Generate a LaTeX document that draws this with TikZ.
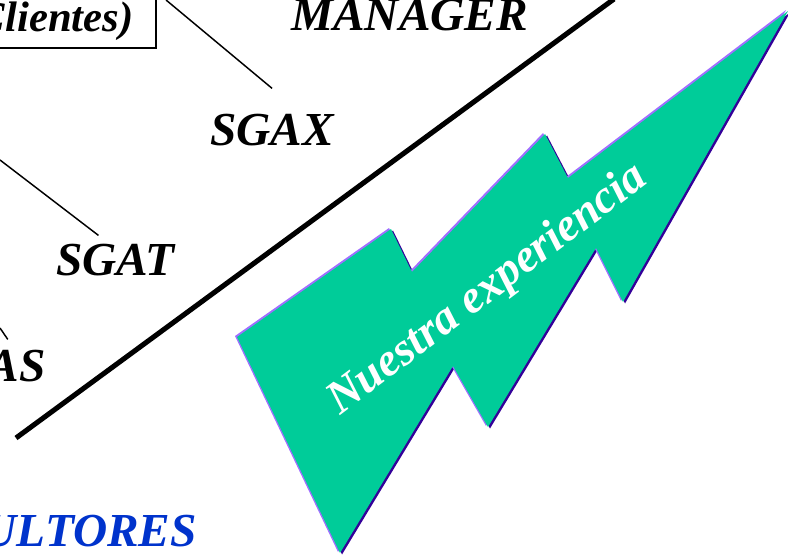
\documentclass[tikz,border=0pt]{standalone}
\usepackage{fontspec}
\setmainfont{Liberation Serif}
\usetikzlibrary{calc}

\definecolor{verde}{RGB}{0,204,153}
\definecolor{lila}{RGB}{160,110,255}
\definecolor{indigo}{RGB}{51,0,153}
\definecolor{azul}{RGB}{0,51,204}

\begin{document}
\begin{tikzpicture}[x=0.75pt, y=-0.75pt,
                titulo/.style = {font=\fontsize{35.5}{38}\selectfont\bfseries\itshape, inner sep=0pt},
                hilo/.style = {line width=1.1pt},
                raya/.style = {line width=3.8pt}]
                \useasboundingbox (0,0) rectangle (788,556);
                \clip (0,0) rectangle (788,556);

                % textos
                \node[titulo, font=\fontsize{32}{36}\selectfont\bfseries\itshape, draw, line width=1.5pt,
                      anchor=south east, inner xsep=17pt, text depth=12.5pt, text height=60pt]
                      at (157,49) (clientes) {(Clientes)};
                \node[titulo, anchor=base west] at (291,31) (manager) {MANAGER};
                \node[titulo, anchor=base west] at (210,146) (sgax) {SGAX};
                \node[titulo, anchor=base west] at (56,275) (sgat) {SGAT};
                \node[titulo, anchor=base east] at (46,381) (sgas) {AS};
                \node[titulo, anchor=base east, text=azul] at (197,546) (consultores) {ULTORES};

                % lineas finas
                \coordinate (c1) at (166,0);
                \coordinate (c2) at (0,160);
                \coordinate (c3) at (0,328);
                \draw[hilo] (c1) -- ($(sgax.north)+(0,-26)$);
                \draw[hilo] (c2) -- ($(sgat.north)+(-17,-8)$);
                \draw[hilo] (c3) -- ($(sgas.north)+(-9,-10)$);

                % linea gruesa
                \coordinate (r1) at (16,438);
                \coordinate (r2) at (614,-1);
                \draw[raya] (r1) -- (r2);

                % rayo
                \def\rayo{(237,337) -- (391,229) -- (412,272) -- (545,134) -- (568,178) -- (788,11)
                          -- (623,302) -- (596,248) -- (488,427) -- (453,366) -- (340,553) -- cycle}
                \fill[indigo, shift={(2,1.5)}] \rayo;
                \fill[lila, shift={(-2,-1)}] \rayo;
                \fill[verde] \rayo;
                \node[font=\fontsize{35}{38}\selectfont\bfseries\itshape, text=white, rotate=37]
                      at (488,290) (experiencia) {Nuestra experiencia};
            \end{tikzpicture}
\end{document}
